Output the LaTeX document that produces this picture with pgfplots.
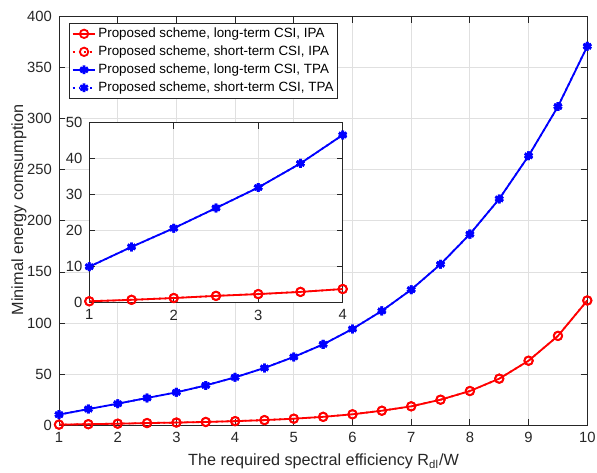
\documentclass[border=0pt]{standalone}
\usepackage{fontspec}
\setmainfont{Liberation Sans}
\usepackage{pgfplots}
\pgfplotsset{compat=1.18}
\definecolor{axgray}{rgb}{0.15,0.15,0.15}
\definecolor{gridgray}{rgb}{0.88,0.88,0.88}
\pgfplotsset{
  mystyle/.style={
    scale only axis,
    axis line style={axgray, line width=0.5pt},
    tick style={axgray, line width=0.4pt},
    tick align=inside,
    major tick length=3pt,
    ticklabel style={font=\fontsize{7.4}{9}\selectfont, text=axgray},
    /pgf/number format/assume math mode=true,
    grid=major,
    major grid style={gridgray, line width=0.4pt},
    axis background/.style={fill=white},
  },
  redstyle/.style={red, line width=0.9pt, mark=o, mark size=2.1pt, mark options={solid, line width=0.9pt}},
  bluestyle/.style={blue, line width=0.9pt, mark=asterisk, mark size=2.2pt, mark options={solid, line width=1.4pt}},
}
\pgfplotstableread{
x    r      b
1    0.4    10.2
1.5  0.8    15.6
2    1.3    20.9
2.5  1.9    26.5
3    2.4    32.0
3.5  3.0    38.8
4    3.8    46.7
4.5  4.8    55.9
5    6.2    66.7
5.5  8.0    79.0
6    10.5   94.1
6.5  14.0   111.8
7    18.3   132.6
7.5  24.8   157.5
8    33.3   187.0
8.5  45.4   221.5
9    63.0   263.7
9.5  87.3   312.0
10   122.0  371.0
}\maindata
\pgfplotstableread{
x    r      b
1    0.4    10.0
1.5  0.8    15.5
2    1.3    20.7
2.5  1.9    26.3
3    2.4    32.0
3.5  3.0    38.7
4    3.8    46.6
}\insetdata
\begin{document}
\begin{tikzpicture}
\begin{axis}[mystyle,
  at={(0,0)}, anchor=south west,
  width=264.15pt, height=204.15pt,
  xmin=1, xmax=10, ymin=0, ymax=400,
  xtick={1,2,...,10}, ytick={0,50,...,400},
  xlabel={The required spectral efficiency R$_{\mathrm{dl}}$/W},
  ylabel={Minimal energy comsumption},
  label style={font=\fontsize{8.1}{9.5}\selectfont, text=axgray},
  xlabel style={at={(axis description cs:0.5007,-0.100)}, anchor=base},
  ylabel style={at={(axis description cs:-0.0757,0.527)}, anchor=center},
  legend style={at={(axis description cs:0.0195,0.985)}, anchor=north west,
    font=\fontsize{6.7}{8}\selectfont, draw=axgray, line width=0.5pt,
    inner xsep=1pt, inner ysep=1pt, row sep=0.5pt,
    nodes={inner sep=1pt, text height=5pt, text depth=1.5pt}},
  legend cell align=left,
  legend image code/.code={\draw[mark repeat=2, mark phase=2] plot coordinates {(0cm,0cm) (0.2cm,0cm) (0.4cm,0cm)};},
]
\addplot[redstyle] table[x=x, y=r] {\maindata};
\addlegendentry{Proposed scheme, long-term CSI, IPA}
\addplot[redstyle, dotted] table[x=x, y=r] {\maindata};
\addlegendentry{Proposed scheme, short-term CSI, IPA}
\addplot[bluestyle] table[x=x, y=b] {\maindata};
\addlegendentry{Proposed scheme, long-term CSI, TPA}
\addplot[bluestyle, dotted] table[x=x, y=b] {\maindata};
\addlegendentry{Proposed scheme, short-term CSI, TPA}
\end{axis}
\begin{axis}[mystyle,
  at={(15.15pt,61.15pt)}, anchor=south west,
  width=126.7pt, height=90pt,
  xmin=1, xmax=4, ymin=0, ymax=50,
  xtick={1,2,3,4}, ytick={0,10,...,50},
]
\addplot[redstyle] table[x=x, y=r] {\insetdata};
\addplot[redstyle, dotted] table[x=x, y=r] {\insetdata};
\addplot[bluestyle] table[x=x, y=b] {\insetdata};
\addplot[bluestyle, dotted] table[x=x, y=b] {\insetdata};
\end{axis}
\pgfresetboundingbox
\path (-29.5pt,-23.5pt) rectangle (269pt,212.5pt);
\end{tikzpicture}
\end{document}
